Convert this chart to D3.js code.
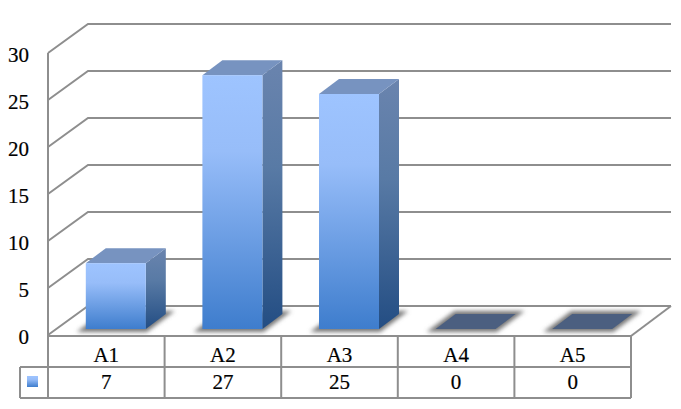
<!DOCTYPE html>
<html><head><meta charset="utf-8">
<script src="https://cdn.jsdelivr.net/npm/d3@7"></script>
<style>html,body{margin:0;padding:0;background:#fff}svg{display:block}
text{font-family:"Liberation Serif",serif;font-size:21px;fill:#000;stroke:#000;stroke-width:.2px}</style></head>
<body><svg id="c" width="681" height="409"></svg>
<script>
const categories=["A1","A2","A3","A4","A5"];
const values=[7,27,25,0,0];
const yTicks=[0,5,10,15,20,25,30];

const svg=d3.select("#c");
const defs=svg.append("defs");
function grad(id,stops){
  const g=defs.append("linearGradient").attr("id",id).attr("x1",0).attr("y1",0).attr("x2",0).attr("y2",1);
  stops.forEach(([o,c])=>g.append("stop").attr("offset",o).attr("stop-color",c));
}
grad("front",[[0,"#9ec4ff"],[0.3,"#97bdf9"],[1,"#3e7dcd"]]);
grad("side",[[0,"#6a84ae"],[0.4,"#587aa5"],[1,"#234d83"]]);
defs.append("filter").attr("id","blur").attr("x","-30%").attr("y","-60%").attr("width","160%").attr("height","220%")
  .append("feGaussianBlur").attr("stdDeviation",2);

const grey="#8e8e8e";
const left=48,right=631,floorY=335,topY=53,backDX=40,backDY=-29;
const y=d3.scaleLinear().domain([0,30]).range([floorY,topY]);
const x=d3.scaleBand().domain(categories).range([left,right]);
const barW=60,inDX=9.5,inDY=-6,depthDX=20,depthDY=-15;

// walls and gridlines
const line=d3.line();
const g=svg.append("g").attr("fill","none").attr("stroke",grey).attr("stroke-width",2);
yTicks.forEach(t=>{
  g.append("path").attr("d",line([[left,y(t)],[left+backDX,y(t)+backDY],[right+backDX,y(t)+backDY]]));
});
g.append("path").attr("d",line([[left,y(0)+1],[left,y(30)]]));
g.append("path").attr("d",line([[right+backDX,y(0)+backDY],[right,y(0)+1]]));

// bars
const bx=c=>x(c)+x.step()/2-barW/2+inDX;
const base=floorY+inDY;
const dy=v=>y(0)-y(v);
const bars=svg.append("g");
categories.forEach((c,i)=>{
  const x0=bx(c),x1=x0+barW;
  bars.append("path").attr("d",line([[x0,base],[x1,base],[x1+depthDX,base+depthDY],[x0+depthDX,base+depthDY]])+"Z")
    .attr("fill","#777").attr("stroke","#777").attr("stroke-width",6).attr("stroke-linejoin","miter").attr("stroke-miterlimit",6)
    .attr("filter","url(#blur)");
});
categories.forEach((c,i)=>{
  const x0=bx(c),x1=x0+barW,v=values[i],top=base-dy(v);
  if(v===0){
    bars.append("path").attr("d",line([[x0,base],[x1,base],[x1+depthDX,base+depthDY],[x0+depthDX,base+depthDY]])+"Z").attr("fill","#4b5f80");
    return;
  }
  bars.append("path").attr("d",line([[x1,top],[x1+depthDX,top+depthDY],[x1+depthDX,base+depthDY],[x1,base]])+"Z").attr("fill","url(#side)");
  bars.append("path").attr("d",line([[x0,top],[x0+depthDX,top+depthDY],[x1+depthDX,top+depthDY],[x1,top]])+"Z").attr("fill","#7793c0");
  bars.append("rect").attr("x",x0).attr("y",top).attr("width",barW).attr("height",base-top).attr("fill","url(#front)");
});

// y labels
svg.append("g").selectAll("text").data(yTicks).join("text")
  .attr("x",29).attr("y",d=>y(d)+9).attr("text-anchor","end").text(d=>d);

// table
const r0=336,r1=367,r2=398,legendL=20;
const t=svg.append("g").attr("fill","none").attr("stroke",grey).attr("stroke-width",2);
t.append("path").attr("d",line([[left,r0],[right,r0]]));
t.append("path").attr("d",line([[legendL,r1],[right,r1]]));
t.append("path").attr("d",line([[legendL,r2],[right,r2]]));
t.append("path").attr("d",line([[legendL,r1],[legendL,r2]]));
categories.forEach(c=>t.append("path").attr("d",line([[x(c),r0],[x(c),r2]])));
t.append("path").attr("d",line([[right,r0],[right,r2]]));
svg.append("rect").attr("x",27).attr("y",376).attr("width",11).attr("height",11).attr("fill","url(#front)");
categories.forEach((c,i)=>{
  const cx=x(c)+x.step()/2;
  svg.append("text").attr("x",cx).attr("y",r0+26).attr("text-anchor","middle").text(c);
  svg.append("text").attr("x",cx).attr("y",r1+22).attr("text-anchor","middle").text(values[i]);
});
</script></body></html>
